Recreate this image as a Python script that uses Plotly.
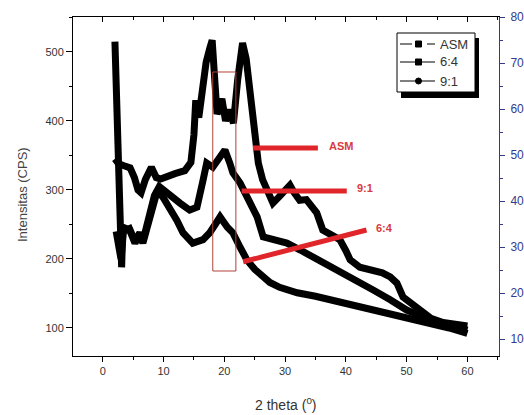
import plotly.graph_objects as go

# ---- data (2 theta in degrees, intensity in CPS) ----
asm_x = [2.0, 2.3, 2.6, 3.5, 4.5, 5.2, 5.8, 6.3, 7.0, 8.0, 8.8, 9.5, 10.5, 12.0, 13.5, 14.5,
         15.0, 15.3, 15.8, 16.3, 17.0, 17.6, 18.0, 18.5, 18.8, 19.6, 20.2, 20.8, 21.5, 22.2,
         23.0, 23.6, 24.2, 24.8, 25.3, 25.6, 26.3, 27.0, 28.0, 29.0, 30.0, 30.8, 31.5, 32.4,
         33.5, 34.5, 35.2, 36.2, 37.5, 39.0, 40.0, 40.7, 42.3, 43.5, 44.5, 46.0, 47.3, 48.4,
         49.4, 50.5, 51.7, 53.0, 54.0, 56.0, 58.0, 60.0]
asm_y = [345, 340, 338, 335, 332, 318, 300, 296, 315, 333, 318, 316, 320, 324, 328, 340,
         380, 430, 405, 440, 485, 505, 517, 450, 410, 432, 400, 416, 397, 460,
         513, 490, 450, 400, 368, 339, 315, 300, 281, 290, 300, 307, 296, 285,
         286, 275, 267, 242, 235, 228, 212, 199, 188, 186, 185, 180, 174, 165,
         145, 138, 130, 120, 114, 108, 105, 103]

r64_x = [2.0, 2.4, 2.8, 3.1, 3.3, 4.4, 5.3, 6.1, 6.6, 7.7, 8.5, 9.0, 10.0, 11.0, 12.2, 13.2,
         14.8, 16.5, 17.6, 18.5, 19.3, 20.5, 21.4, 22.6, 23.7, 25.0, 26.3, 27.5, 29.1, 32.0,
         35.0, 37.4, 40.0, 42.8, 45.5, 48.4, 51.0, 53.9, 57.0, 60.0]
r64_y = [515, 400, 260, 188, 246, 242, 223, 236, 223, 259, 293, 300, 288, 275, 256, 238,
         223, 228, 238, 250, 261, 246, 238, 217, 199, 185, 174, 166, 159, 151,
         146, 141, 135, 130, 125, 119, 113, 107, 100, 92]

r91_x = [2.2, 3.0, 3.4, 4.4, 5.3, 6.1, 6.6, 7.7, 8.5, 9.3, 10.0, 11.0, 12.7, 14.3, 15.5, 16.5,
         17.1, 18.1, 19.3, 20.1, 20.9, 21.4, 22.6, 23.7, 25.4, 26.4, 28.0, 30.3, 32.5, 34.6,
         36.9, 39.0, 41.8, 44.5, 47.3, 50.0, 53.9, 60.0]
r91_y = [240, 200, 240, 244, 226, 238, 226, 262, 292, 305, 300, 290, 281, 271, 275, 314,
         339, 333, 348, 358, 339, 325, 310, 290, 261, 232, 228, 223, 213, 203,
         194, 184, 170, 155, 141, 126, 112, 97]

series_names = ["ASM", "6:4", "9:1"]
legend_symbols = ["square", "square", "circle"]
legend_gapped = [True, False, False]

x_ticks = [0, 10, 20, 30, 40, 50, 60]
y_ticks = [100, 200, 300, 400, 500]
y2_ticks = [100, 200, 300, 400, 500, 600, 700, 800]

FONT = "Liberation Sans, Arial, sans-serif"
NAVY = "#353a8c"
RED = "#e0262b"

# plot area in pixels (for placing the decorative legend)
L, R, T, B = 73, 499, 17, 356


def px(xp):
    return (xp - L) / (R - L)


def py(yp):
    return (B - yp) / (B - T)


fig = go.Figure()

for xs, ys in [(asm_x, asm_y), (r64_x, r64_y), (r91_x, r91_y)]:
    fig.add_trace(go.Scatter(x=xs, y=ys, mode="lines",
                             line=dict(color="black", width=7),
                             showlegend=False, hoverinfo="skip"))

# dummy traces for the right axis and the top (mirror) axis
fig.add_trace(go.Scatter(x=[None], y=[None], yaxis="y2", showlegend=False, hoverinfo="skip"))
fig.add_trace(go.Scatter(x=[None], y=[None], xaxis="x2", showlegend=False, hoverinfo="skip"))

xr = [-4.9, 65.2]
fig.update_layout(
    width=524, height=415,
    margin=dict(l=L, r=524 - R, t=T, b=415 - B, autoexpand=False),
    paper_bgcolor="white", plot_bgcolor="white",
    font=dict(family=FONT, size=12, color="#333333"),
    showlegend=False,
    hovermode=False,
    xaxis=dict(range=xr, tickvals=x_ticks, ticks="outside", ticklen=5,
               tickcolor="black", linecolor="black", linewidth=1, showline=True,
               showgrid=False, zeroline=False, automargin=False,
               minor=dict(dtick=5, tick0=0, ticks="outside", ticklen=3, tickcolor="black"),
               tickfont=dict(size=11, color="#333333")),
    xaxis2=dict(range=xr, overlaying="x", side="top", tickvals=x_ticks, ticks="inside",
                ticklen=5, tickcolor="black", linecolor="black", linewidth=1,
                showline=True, showgrid=False, zeroline=False, showticklabels=False,
                automargin=False,
                minor=dict(dtick=5, tick0=0, ticks="inside", ticklen=3, tickcolor="black")),
    yaxis=dict(range=[59.4, 550.7], tickvals=y_ticks, ticks="outside", ticklen=6,
               tickcolor="black", linecolor="black", linewidth=1, showline=True,
               showgrid=False, zeroline=False, automargin=False,
               minor=dict(dtick=50, tick0=0, ticks="outside", ticklen=3, tickcolor="black"),
               tickfont=dict(size=11, color="#333333")),
    yaxis2=dict(range=[63.2, 800.5], overlaying="y", side="right", tickvals=y2_ticks,
                ticks="outside", ticklen=5, tickcolor=NAVY, linecolor=NAVY, linewidth=1,
                showline=True, showgrid=False, zeroline=False, automargin=False,
                ticklabelstandoff=3,
                minor=dict(dtick=50, tick0=0, ticks="outside", ticklen=3, tickcolor=NAVY),
                tickfont=dict(size=12, color=NAVY)),
)

# axis titles
fig.add_annotation(text="Intensitas (CPS)", xref="paper", yref="paper",
                   x=px(22), y=py(195), textangle=-90, showarrow=False,
                   xanchor="center", yanchor="middle",
                   font=dict(size=13, color="#444444"))
fig.add_annotation(text="2 theta (<sup>0</sup>)", xref="paper", yref="paper",
                   x=0.5, y=py(404), showarrow=False, yanchor="middle",
                   font=dict(size=14, color="#333333"))

# legend (shadow, box, samples, labels)
fig.add_shape(type="rect", xref="paper", yref="paper",
              x0=px(401), x1=px(479), y0=py(98), y1=py(38),
              fillcolor="black", line=dict(width=0), layer="above")
fig.add_shape(type="rect", xref="paper", yref="paper",
              x0=px(397), x1=px(475), y0=py(92), y1=py(33),
              fillcolor="white", line=dict(color="black", width=1), layer="above")
row_y = [44, 62, 81]
for name, sym, gapped, ry in zip(series_names, legend_symbols, legend_gapped, row_y):
    if gapped:
        segs = [(400, 412), (427, 435)]
    else:
        segs = [(400, 435)]
    for a, b in segs:
        fig.add_shape(type="line", xref="paper", yref="paper", x0=px(a), x1=px(b),
                      y0=py(ry), y1=py(ry), line=dict(color="black", width=1), layer="above")
    fig.add_shape(type="rect" if sym == "square" else "circle", xref="paper", yref="paper",
                  x0=px(415.5), x1=px(421.5), y0=py(ry + 3), y1=py(ry - 3),
                  fillcolor="black", line=dict(color="black", width=1), layer="above")
    fig.add_annotation(text=name, xref="paper", yref="paper", x=px(438), y=py(ry),
                       xanchor="left", yanchor="middle", showarrow=False,
                       font=dict(size=13, color="#333333"))

# red highlight box and pointers
fig.add_shape(type="rect", xref="x", yref="y", x0=18.1, x1=21.9, y0=182.6, y1=471,
              line=dict(color="#b0403a", width=1), layer="above")
fig.add_shape(type="line", xref="x", yref="y", x0=24.7, x1=35.4, y0=361, y1=361,
              line=dict(color=RED, width=5), layer="above")
fig.add_shape(type="line", xref="x", yref="y", x0=22.85, x1=40.15, y0=298.6, y1=298.6,
              line=dict(color=RED, width=5), layer="above")
fig.add_shape(type="line", xref="x", yref="y", x0=23.1, x1=43.4, y0=196, y1=242,
              line=dict(color=RED, width=5), layer="above")
for txt, tx, ty in [("ASM", 39.2, 364), ("9:1", 43.2, 303), ("6:4", 46.3, 245)]:
    fig.add_annotation(text="<b>" + txt + "</b>", x=tx, y=ty, xref="x", yref="y",
                       showarrow=False, font=dict(size=11, color="#d93a40"))

fig.write_html("out.html", config={"displayModeBar": False, "staticPlot": True},
               post_script="document.body.style.margin='0';")
